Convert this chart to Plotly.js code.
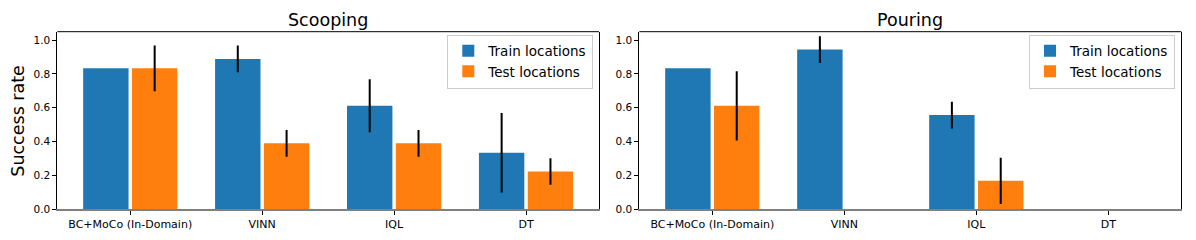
<!DOCTYPE html>
<html>
<head>
<meta charset="utf-8">
<script src="https://cdn.plot.ly/plotly-3.0.1.min.js"></script>
<style>html,body{margin:0;padding:0;background:#fff;}#chart{width:1196px;height:240px;}</style>
</head>
<body>
<div id="chart"></div>
<script>
const categories = ["BC+MoCo (In-Domain)", "VINN", "IQL", "DT"];
const seriesNames = ["Train locations", "Test locations"];
const panelTitles = ["Scooping", "Pouring"];
const yTickVals = [0, 0.2, 0.4, 0.6, 0.8, 1.0];

const scoopTrain = [0.833, 0.889, 0.611, 0.333];
const scoopTrainErr = [0, 0.079, 0.157, 0.235];
const scoopTest = [0.833, 0.389, 0.389, 0.222];
const scoopTestErr = [0.136, 0.079, 0.079, 0.079];

const pourTrain = [0.833, 0.944, 0.556, 0];
const pourTrainErr = [0, 0.079, 0.079, 0];
const pourTest = [0.611, 0, 0.167, 0];
const pourTestErr = [0.205, 0, 0.137, 0];

const FONT = "DejaVu Sans, sans-serif";
const BLUE = "#1f77b4", ORANGE = "#ff7f0e";
const W = 1196, H = 240;
const px = v => v / W;
const py = v => 1 - v / H;

function bar(name, y, err, color, xa, ya, legend) {
  return {
    type: "bar", name: name, x: categories, y: y,
    xaxis: xa, yaxis: ya, legend: legend,
    marker: {color: color, line: {width: 0}},
    error_y: {type: "data", array: err, visible: true, color: "#000", thickness: 2, width: 0},
    hoverinfo: "skip"
  };
}

const data = [
  bar(seriesNames[0], scoopTrain, scoopTrainErr, BLUE, "x", "y", "legend"),
  bar(seriesNames[1], scoopTest, scoopTestErr, ORANGE, "x", "y", "legend"),
  bar(seriesNames[0], pourTrain, pourTrainErr, BLUE, "x2", "y2", "legend2"),
  bar(seriesNames[1], pourTest, pourTestErr, ORANGE, "x2", "y2", "legend2")
];

const yDom = [py(209), py(31.7)];
const xRange = [-0.553, 3.553];

function xaxis(dom, anchor) {
  return {
    domain: dom, anchor: anchor, range: xRange, type: "category",
    showgrid: false, zeroline: false,
    showline: true, linecolor: "#808080", linewidth: 1.5,
    ticks: "outside", ticklen: 4, tickwidth: 1, tickcolor: "#000",
    tickfont: {family: FONT, size: 11, color: "#000"}, fixedrange: true
  };
}
function yaxis(anchor) {
  return {
    domain: yDom, anchor: anchor, range: [0, 1.05],
    tickvals: yTickVals, tickformat: ".1f",
    showgrid: false, zeroline: false,
    showline: true, linecolor: "#000", linewidth: 1, mirror: true,
    ticks: "outside", ticklen: 4, tickwidth: 1, tickcolor: "#000",
    tickfont: {family: FONT, size: 10.5, color: "#000"}, fixedrange: true
  };
}

function legendCfg(xLeft) {
  return {
    x: xLeft, y: py(34.5), xanchor: "left", yanchor: "top",
    xref: "paper", yref: "paper",
    bgcolor: "rgba(255,255,255,0.8)", bordercolor: "#cccccc", borderwidth: 1,
    font: {family: FONT, size: 13.5, color: "#000"},
    tracegroupgap: 0, itemwidth: 30
  };
}

const xDom1 = [px(57.3), px(599)];
const xDom2 = [px(639.3), px(1181.3)];

const layout = {
  width: W, height: H,
  margin: {l: 0, r: 0, t: 0, b: 0, pad: 0},
  paper_bgcolor: "#fff", plot_bgcolor: "#fff",
  barmode: "group", bargap: 0.26, bargroupgap: 0.07,
  font: {family: FONT, color: "#000"},
  xaxis: xaxis(xDom1, "y"),
  yaxis: yaxis("x"),
  xaxis2: xaxis(xDom2, "y2"),
  yaxis2: yaxis("x2"),
  showlegend: true,
  legend: legendCfg(px(447.3)),
  legend2: legendCfg(px(1029)),
  shapes: [
    {type: "line", xref: "x domain", yref: "y domain", x0: 0, x1: 1, y0: 1, y1: 1, line: {color: "#000", width: 1}},
    {type: "line", xref: "x2 domain", yref: "y2 domain", x0: 0, x1: 1, y0: 1, y1: 1, line: {color: "#000", width: 1}}
  ],
  annotations: [
    {text: panelTitles[0], xref: "paper", yref: "paper", x: (xDom1[0] + xDom1[1]) / 2, y: py(20), xanchor: "center", yanchor: "middle", showarrow: false, font: {family: FONT, size: 17.5, color: "#000"}},
    {text: panelTitles[1], xref: "paper", yref: "paper", x: (xDom2[0] + xDom2[1]) / 2, y: py(20), xanchor: "center", yanchor: "middle", showarrow: false, font: {family: FONT, size: 17.5, color: "#000"}},
    {text: "Success rate", xref: "paper", yref: "paper", x: px(18.3), y: py(120.4), xanchor: "center", yanchor: "middle", textangle: -90, showarrow: false, font: {family: FONT, size: 17.5, color: "#000"}}
  ]
};

Plotly.newPlot("chart", data, layout, {staticPlot: true, displayModeBar: false});
</script>
</body>
</html>
